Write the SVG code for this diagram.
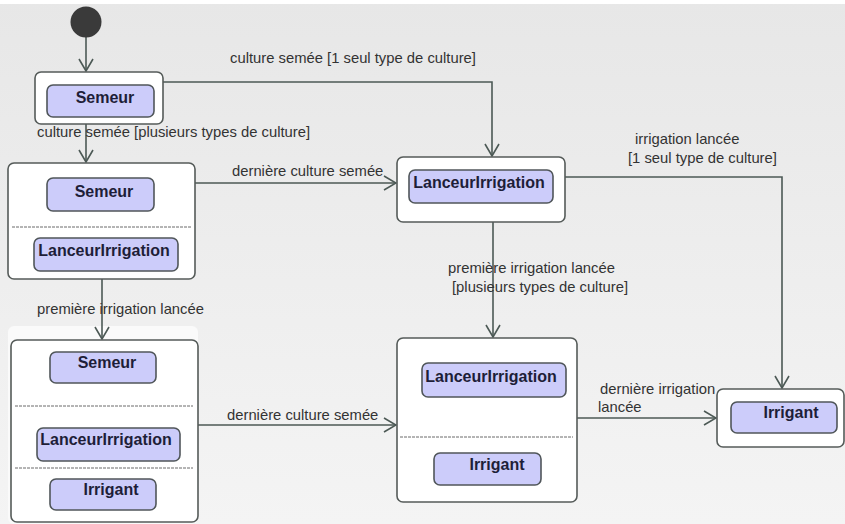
<svg xmlns="http://www.w3.org/2000/svg" width="845" height="524" viewBox="0 0 845 524">
<style>
.box{fill:#ffffff;stroke:#555b59;stroke-width:1.6}
.inner{fill:#ccccfa;stroke:#50565a;stroke-width:1.6}
.sep{stroke:#6a6a6a;stroke-width:1;stroke-dasharray:3 1}
.nt{font-family:"Liberation Sans",Arial,sans-serif;font-size:16px;font-weight:bold;fill:#1e1e38;text-anchor:middle}
.lb{font-family:"Liberation Sans",Arial,sans-serif;font-size:14.8px;fill:#333333}
.cn{fill:none;stroke:#4c5955;stroke-width:1.6}
</style>
<defs>
<linearGradient id="bg" x1="0" y1="0" x2="0" y2="1">
<stop offset="0" stop-color="#e7e7e7"/>
<stop offset="1" stop-color="#f4f4f4"/>
</linearGradient>
<marker id="arr" markerUnits="userSpaceOnUse" markerWidth="14" markerHeight="16" viewBox="0 0 14 16" refX="13" refY="8" orient="auto">
<path d="M1,1 L13,8 L1,15" fill="none" stroke="#4c5955" stroke-width="1.6"/>
</marker>
</defs>
<rect x="0" y="0" width="845" height="524" fill="url(#bg)"/>
<rect x="0" y="0" width="845" height="4" fill="#ffffff"/>
<rect x="8" y="326" width="190" height="198" rx="6" fill="#fafafa"/>

<g id="connectors">
<path class="cn" d="M86,37 V71" marker-end="url(#arr)"/>
<path class="cn" d="M163,82 H492 V156" marker-end="url(#arr)"/>
<path class="cn" d="M86,124 V162" marker-end="url(#arr)"/>
<path class="cn" d="M195,183 H396" marker-end="url(#arr)"/>
<path class="cn" d="M565,177 H782 V388" marker-end="url(#arr)"/>
<path class="cn" d="M102,279 V339" marker-end="url(#arr)"/>
<path class="cn" d="M493,222 V337" marker-end="url(#arr)"/>
<path class="cn" d="M198,425 H396" marker-end="url(#arr)"/>
<path class="cn" d="M577,418 H716" marker-end="url(#arr)"/>
<text class="lb" x="230" y="63">culture semée [1 seul type de culture]</text>
<text class="lb" x="37" y="137">culture semée [plusieurs types de culture]</text>
<text class="lb" x="232" y="176">dernière culture semée</text>
<text class="lb" x="635" y="144">irrigation lancée</text>
<text class="lb" x="628" y="163">[1 seul type de culture]</text>
<text class="lb" x="37" y="314">première irrigation lancée</text>
<text class="lb" x="448" y="273">première irrigation lancée</text>
<text class="lb" x="452" y="292">[plusieurs types de culture]</text>
<text class="lb" x="227" y="420">dernière culture semée</text>
<text class="lb" x="600" y="394">dernière irrigation</text>
<text class="lb" x="598" y="412">lancée</text>
</g>

<g id="initial">
<circle cx="86" cy="22" r="15.5" fill="#3a3a3a"/>
</g>

<g id="state1">
<rect class="box" x="35" y="72" width="128" height="52" rx="6"/>
<rect class="inner" x="47" y="85" width="107" height="32" rx="6"/>
<text class="nt" x="105" y="103">Semeur</text>
</g>

<g id="state2">
<rect class="box" x="8" y="163" width="187" height="116" rx="6"/>
<rect class="inner" x="47" y="178" width="107" height="33" rx="6"/>
<text class="nt" x="104" y="197">Semeur</text>
<line class="sep" x1="12" y1="227" x2="191" y2="227"/>
<rect class="inner" x="34" y="238" width="144" height="33" rx="6"/>
<text class="nt" x="104" y="256">LanceurIrrigation</text>
</g>

<g id="state3">
<rect class="box" x="11" y="340" width="187" height="182" rx="6"/>
<rect class="inner" x="50" y="352" width="106" height="31" rx="6"/>
<text class="nt" x="107" y="368">Semeur</text>
<line class="sep" x1="15" y1="406" x2="193" y2="406"/>
<rect class="inner" x="37" y="428" width="143" height="33" rx="6"/>
<text class="nt" x="106" y="445">LanceurIrrigation</text>
<line class="sep" x1="15" y1="468" x2="193" y2="468"/>
<rect class="inner" x="50" y="479" width="106" height="31" rx="6"/>
<text class="nt" x="111" y="495">Irrigant</text>
</g>

<g id="state4">
<rect class="box" x="397" y="157" width="168" height="65" rx="6"/>
<rect class="inner" x="409" y="170" width="144" height="33" rx="6"/>
<text class="nt" x="479" y="188">LanceurIrrigation</text>
</g>

<g id="state5">
<rect class="box" x="397" y="338" width="180" height="164" rx="6"/>
<rect class="inner" x="422" y="363" width="144" height="34" rx="6"/>
<text class="nt" x="491" y="382">LanceurIrrigation</text>
<line class="sep" x1="400" y1="437" x2="573" y2="437"/>
<rect class="inner" x="434" y="453" width="107" height="32" rx="6"/>
<text class="nt" x="497" y="470">Irrigant</text>
</g>

<g id="state6">
<rect class="box" x="717" y="389" width="127" height="58" rx="6"/>
<rect class="inner" x="731" y="402" width="106" height="31" rx="6"/>
<text class="nt" x="791" y="418">Irrigant</text>
</g>
</svg>
